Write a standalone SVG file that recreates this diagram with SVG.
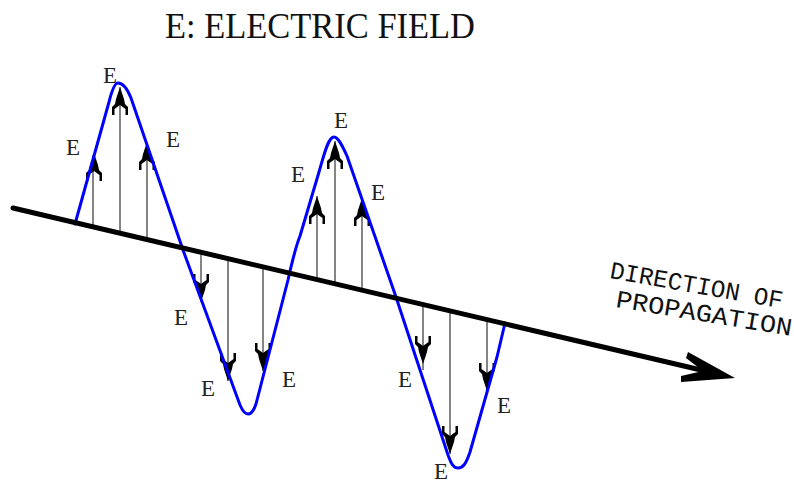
<svg xmlns="http://www.w3.org/2000/svg" width="794" height="484" viewBox="0 0 794 484">
<style>
.lbl{font-family:"Liberation Serif","Times New Roman",serif;font-size:23px;fill:#222}
.ttl{font-family:"Liberation Serif","Times New Roman",serif;font-size:36px;fill:#111}
.dir{font-family:"Liberation Mono","Courier New",monospace;font-size:25px;fill:#111}
.shaft{stroke:#333;stroke-width:1.2;fill:none}
.wave{stroke:#0000ff;stroke-width:3;fill:none;stroke-linejoin:round;stroke-linecap:round}
</style>
<defs>
<path id="ah" d="M0,0 L4,12 L5,17 L8,20 L8,28 L5.5,28 L5.5,22 L2,19.5 L0,18 L-2,19.5 L-5.5,22 L-5.5,28 L-8,28 L-8,20 L-5,17 L-4,12 Z" fill="#000"/>
</defs>
<rect width="794" height="484" fill="#fff"/>
<g id="title"><text class="ttl" x="165" y="38" textLength="310" lengthAdjust="spacingAndGlyphs">E: ELECTRIC FIELD</text></g>
<g id="vectors">
<line class="shaft" x1="93" y1="227" x2="93" y2="155"/><use href="#ah" x="94" y="153"/>
<line class="shaft" x1="120" y1="233" x2="120" y2="87"/><use href="#ah" x="120" y="87"/>
<line class="shaft" x1="147" y1="240" x2="147" y2="142"/><use href="#ah" x="147" y="142"/>
<line class="shaft" x1="201" y1="252" x2="201" y2="302"/><use href="#ah" transform="translate(201,302) scale(1,-1)"/>
<line class="shaft" x1="228" y1="259" x2="228" y2="381"/><use href="#ah" transform="translate(228,381) scale(1,-1)"/>
<line class="shaft" x1="263" y1="267" x2="263" y2="371"/><use href="#ah" transform="translate(263,371) scale(1,-1)"/>
<line class="shaft" x1="317" y1="280" x2="317" y2="196"/><use href="#ah" x="317" y="196"/>
<line class="shaft" x1="335" y1="284" x2="335" y2="141"/><use href="#ah" x="335" y="141"/>
<line class="shaft" x1="362" y1="290" x2="362" y2="198"/><use href="#ah" x="362" y="198"/>
<line class="shaft" x1="423" y1="305" x2="423" y2="370"/><use href="#ah" transform="translate(423,364) scale(1,-1)"/>
<line class="shaft" x1="450" y1="311" x2="450" y2="454"/><use href="#ah" transform="translate(450,454) scale(1,-1)"/>
<line class="shaft" x1="487" y1="320" x2="487" y2="391"/><use href="#ah" transform="translate(487,391) scale(1,-1)"/>
</g>
<g id="wave">
<path class="wave" d="M75,224 L109,102 C112,90 115,83 118,83 C122,83 127,88 131,98 L183,250 L240,405 C243,412 245,414 248,414 C252,414 254,410 256,404 L288,280 C292,262 296,246 300,236 L319,172 C324,155 328,137 334,137 C338,137 342,145 347,156 L396,297 L448,455 C451,463 453,468 458,468 C463,468 466,464 470,452 L497,357 L505,323"/>
</g>
<g id="axis">
<line x1="13" y1="208" x2="703" y2="370.5" stroke="#000" stroke-width="5" stroke-linecap="round"/>
<polygon points="688,352 735,378 681,382 681,376 703,371 686,358" fill="#000"/>
</g>
<g id="labels">
<text class="lbl" x="103" y="83">E</text>
<text class="lbl" x="66" y="155">E</text>
<text class="lbl" x="166" y="147">E</text>
<text class="lbl" x="174" y="325">E</text>
<text class="lbl" x="201" y="396">E</text>
<text class="lbl" x="282" y="387">E</text>
<text class="lbl" x="334" y="128">E</text>
<text class="lbl" x="291" y="182">E</text>
<text class="lbl" x="371" y="200">E</text>
<text class="lbl" x="398" y="387">E</text>
<text class="lbl" x="497" y="413">E</text>
<text class="lbl" x="434" y="479">E</text>
</g>
<g id="direction">
<text class="dir" transform="translate(609,278) rotate(10)" textLength="175" lengthAdjust="spacingAndGlyphs">DIRECTION OF</text>
<text class="dir" transform="translate(615,307) rotate(9.3)" textLength="178" lengthAdjust="spacingAndGlyphs">PROPAGATION</text>
</g>
</svg>
